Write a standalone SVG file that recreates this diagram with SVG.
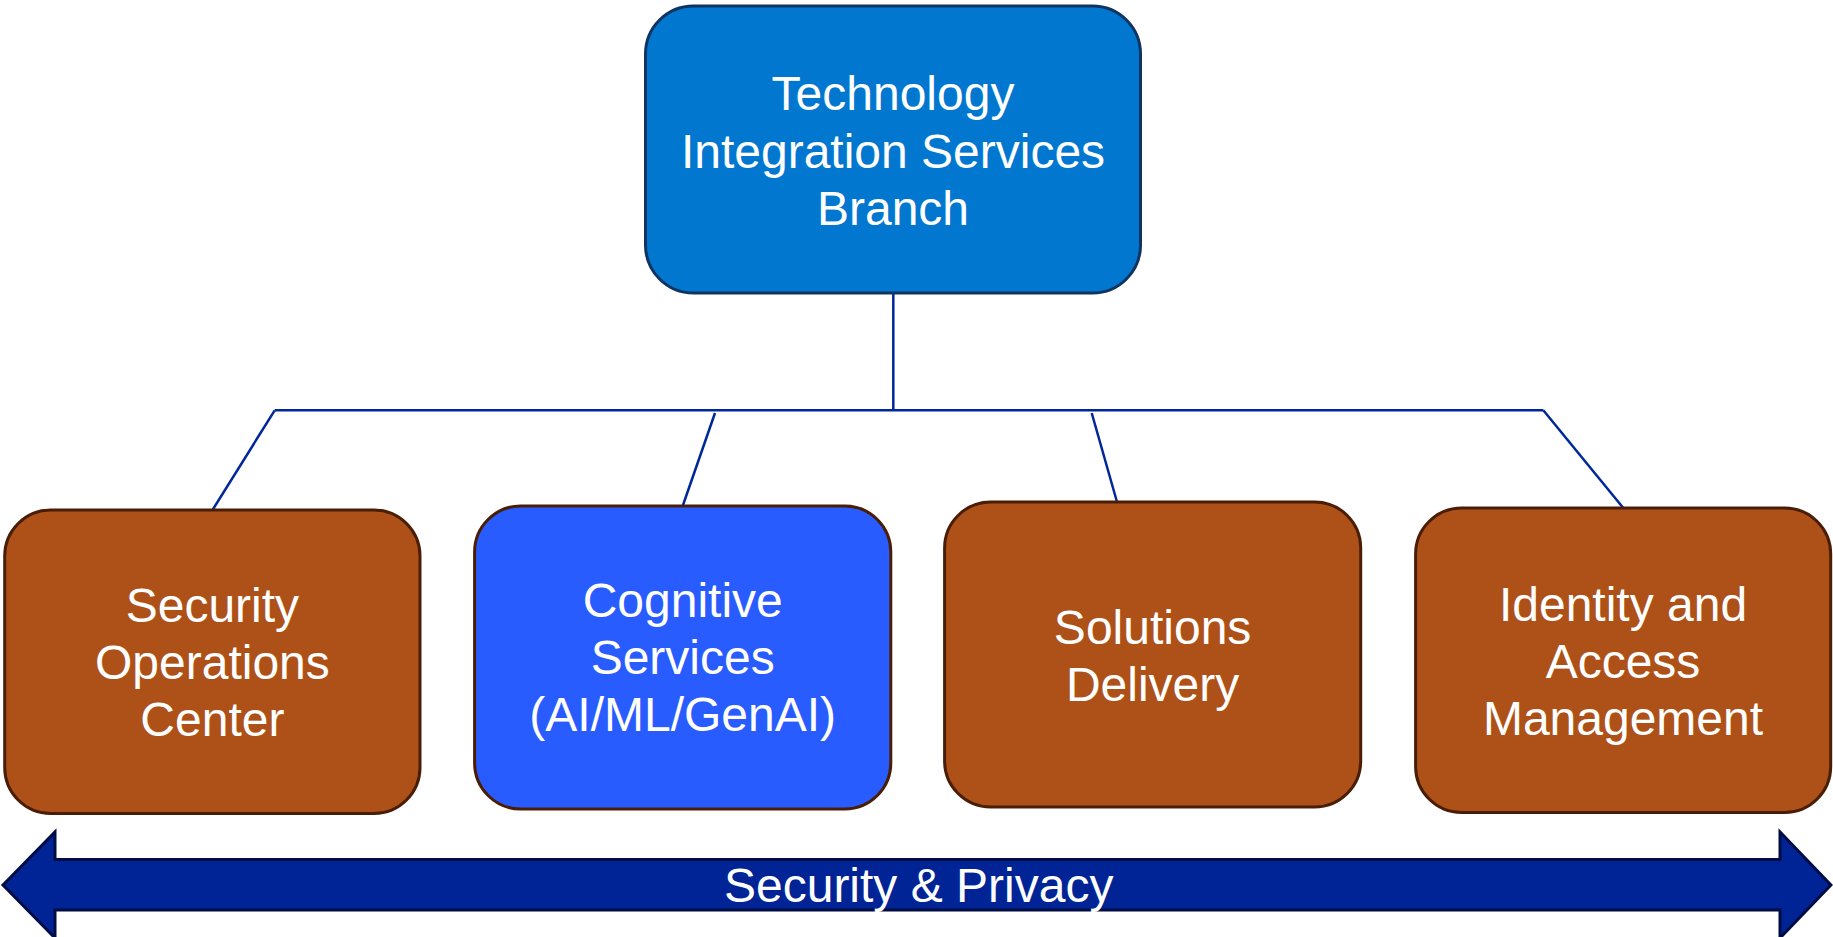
<svg xmlns="http://www.w3.org/2000/svg" width="1833" height="937" viewBox="0 0 1833 937">
<style>
.box{stroke-width:3}
.top{fill:#0277CF;stroke:#0E3461}
.brown{fill:#AE5119;stroke:#4A1E06}
.blue{fill:#295CFF;stroke:#4A1E06}
.lbl{font-family:"Liberation Sans",Arial,sans-serif;font-size:48px;fill:#FFFFFF;text-anchor:middle}
.conn{stroke:#00279A;stroke-width:2.5;fill:none}
</style>
<rect width="1833" height="937" fill="#FFFFFF"/>
<g id="connectors">
<line class="conn" x1="893.3" y1="293" x2="893.3" y2="410.3"/>
<line class="conn" x1="274.7" y1="410.3" x2="1543.3" y2="410.3"/>
<line class="conn" x1="274.7" y1="410.3" x2="212.5" y2="510"/>
<line class="conn" x1="715" y1="413" x2="682.7" y2="506"/>
<line class="conn" x1="1091.7" y1="413" x2="1117.3" y2="503"/>
<line class="conn" x1="1543.3" y1="410.3" x2="1623.3" y2="508"/>
</g>
<g id="node-tisb">
<rect class="box top" x="645.5" y="6" width="495" height="287" rx="48" ry="48"/>
<text class="lbl" x="893" y="110">Technology</text>
<text class="lbl" x="893" y="167.5">Integration Services</text>
<text class="lbl" x="893" y="225">Branch</text>
</g>
<g id="node-soc">
<rect class="box brown" x="4.7" y="510" width="415.3" height="303.5" rx="46" ry="46"/>
<text class="lbl" x="212.4" y="622">Security</text>
<text class="lbl" x="212.4" y="679">Operations</text>
<text class="lbl" x="212.4" y="736">Center</text>
</g>
<g id="node-cognitive">
<rect class="box blue" x="474.6" y="506" width="416.2" height="303" rx="46" ry="46"/>
<text class="lbl" x="682.7" y="617">Cognitive</text>
<text class="lbl" x="682.7" y="674">Services</text>
<text class="lbl" x="682.7" y="731">(AI/ML/GenAI)</text>
</g>
<g id="node-solutions">
<rect class="box brown" x="944.6" y="502" width="416.1" height="305" rx="46" ry="46"/>
<text class="lbl" x="1152.6" y="643.5">Solutions</text>
<text class="lbl" x="1152.6" y="701">Delivery</text>
</g>
<g id="node-iam">
<rect class="box brown" x="1415.6" y="508" width="415.1" height="304.5" rx="46" ry="46"/>
<text class="lbl" x="1623" y="621">Identity and</text>
<text class="lbl" x="1623" y="678">Access</text>
<text class="lbl" x="1623" y="735">Management</text>
</g>
<g id="security-privacy">
<polygon points="3,885 55,832 55,859.5 1780,859.5 1780,832 1831,885 1780,938 1780,910 55,910 55,938" fill="#002395" stroke="#000D45" stroke-width="3" stroke-linejoin="miter"/>
<text class="lbl" x="918.7" y="902">Security &amp; Privacy</text>
</g>
</svg>
